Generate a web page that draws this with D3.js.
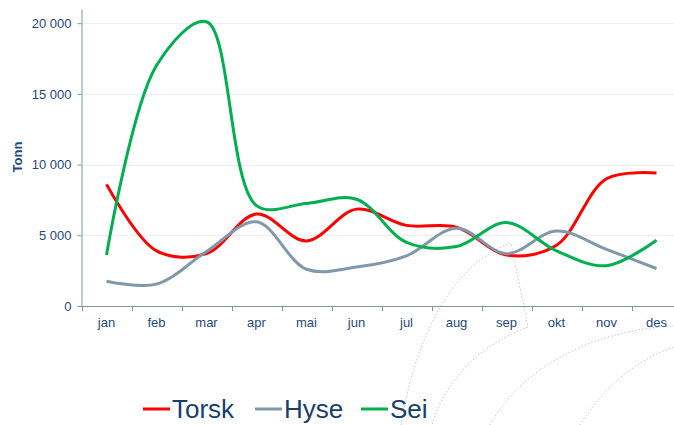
<!DOCTYPE html>
<html>
<head>
<meta charset="utf-8">
<script src="https://cdn.jsdelivr.net/npm/d3@7"></script>
<style>
  body { margin: 0; background: #fff; }
  text { font-family: "Liberation Sans", Arial, sans-serif; }
</style>
</head>
<body>
<div id="chart"></div>
<script>
// months on the x axis
const months = ["jan", "feb", "mar", "apr", "mai", "jun", "jul", "aug", "sep", "okt", "nov", "des"];

// tonnes per month
const torsk = [8600, 3900, 3700, 6500, 4600, 6850, 5700, 5580, 3600, 4300, 9000, 9400];
const hyse = [1750, 1550, 3850, 5950, 2600, 2750, 3550, 5500, 3700, 5300, 4000, 2650];
const sei = [3600, 17000, 20100, 7100, 7250, 7550, 4500, 4200, 5900, 3900, 2850, 4650];

const seriesNames = ["Torsk", "Hyse", "Sei"];
const seriesColors = ["#ff0000", "#8197aa", "#00b050"];
const yTicks = [0, 5000, 10000, 15000, 20000];

const W = 674, H = 425;
const plot = { left: 81.5, right: 681.5, top: 9, bottom: 306 };
const textColor = "#1f497d";
const axisColor = "#8591a4";

const svg = d3.select("#chart")
  .append("svg")
  .attr("width", W)
  .attr("height", H);

// faint dotted watermark in the lower right corner
const deco = svg.append("g")
  .attr("fill", "none")
  .attr("stroke", "#bccbd9")
  .attr("stroke-width", 1)
  .attr("stroke-dasharray", "1.5,2");

const p1 = d3.path();
p1.moveTo(401, 425);
p1.bezierCurveTo(415, 340, 450, 265, 511, 243);
p1.lineTo(528, 327);
p1.bezierCurveTo(480, 345, 445, 380, 432, 425);
deco.append("path").attr("d", p1.toString());

const p2 = d3.path();
p2.moveTo(490, 425);
p2.bezierCurveTo(520, 370, 590, 330, 674, 326);
deco.append("path").attr("d", p2.toString());

const p3 = d3.path();
p3.moveTo(580, 425);
p3.bezierCurveTo(605, 385, 640, 358, 674, 347);
deco.append("path").attr("d", p3.toString());

// scales
const x = d3.scaleBand()
  .domain(months)
  .range([plot.left, plot.right]);

const y = d3.scaleLinear()
  .domain([0, 21000])
  .range([plot.bottom, plot.top]);

// gridlines
svg.append("g")
  .selectAll("line")
  .data(yTicks.filter(d => d > 0))
  .join("line")
  .attr("x1", plot.left)
  .attr("x2", W)
  .attr("y1", d => Math.round(y(d)) + 0.5)
  .attr("y2", d => Math.round(y(d)) + 0.5)
  .attr("stroke", "#eeeeee");

// y axis
const fmt = d3.formatLocale({ decimal: ",", thousands: " ", grouping: [3], currency: ["", ""] }).format(",");
const yAxis = svg.append("g")
  .attr("transform", `translate(${plot.left},0)`)
  .call(d3.axisLeft(y).tickValues(yTicks).tickFormat(fmt).tickSize(4).tickPadding(6).tickSizeOuter(0));
yAxis.select(".domain").attr("stroke", axisColor);
yAxis.selectAll(".tick line").attr("stroke", axisColor);
yAxis.selectAll("text")
  .attr("fill", textColor)
  .style("font-size", "13px");

svg.append("text")
  .attr("transform", "translate(22,157) rotate(-90)")
  .attr("text-anchor", "middle")
  .attr("fill", textColor)
  .style("font-size", "13px")
  .style("font-weight", "bold")
  .text("Tonn");

// x axis: labels in the middle of each band, ticks on the band edges
const xAxis = svg.append("g")
  .attr("transform", `translate(0,${plot.bottom})`)
  .call(d3.axisBottom(x).tickSize(0).tickPadding(12));
xAxis.select(".domain").remove();
xAxis.selectAll("text")
  .attr("fill", textColor)
  .style("font-size", "13px");

svg.append("line")
  .attr("x1", plot.left)
  .attr("x2", W)
  .attr("y1", plot.bottom + 0.5)
  .attr("y2", plot.bottom + 0.5)
  .attr("stroke", axisColor);

svg.append("g")
  .selectAll("line")
  .data(months)
  .join("line")
  .attr("x1", d => Math.round(x(d)) + 0.5)
  .attr("x2", d => Math.round(x(d)) + 0.5)
  .attr("y1", plot.bottom)
  .attr("y2", plot.bottom + 5)
  .attr("stroke", axisColor);

// smoothed lines
const series = [torsk, hyse, sei];
const line = d3.line()
  .x((d, i) => x(months[i]) + x.bandwidth() / 2)
  .y(d => y(d))
  .curve(d3.curveCatmullRom);

svg.append("g")
  .selectAll("path")
  .data(series)
  .join("path")
  .attr("d", d => line(d))
  .attr("fill", "none")
  .attr("stroke", (d, i) => seriesColors[i])
  .attr("stroke-width", 3)
  .attr("stroke-linejoin", "round");

// legend
const legendX = [143, 255, 361];
const legend = svg.append("g")
  .selectAll("g")
  .data(seriesNames)
  .join("g")
  .attr("transform", (d, i) => `translate(${legendX[i]},409)`);

legend.append("line")
  .attr("x1", 0)
  .attr("x2", 27)
  .attr("stroke", (d, i) => seriesColors[i])
  .attr("stroke-width", 3);

legend.append("text")
  .attr("x", 29)
  .attr("y", 9)
  .attr("fill", "#17406d")
  .style("font-size", "26px")
  .text(d => d);
</script>
</body>
</html>
